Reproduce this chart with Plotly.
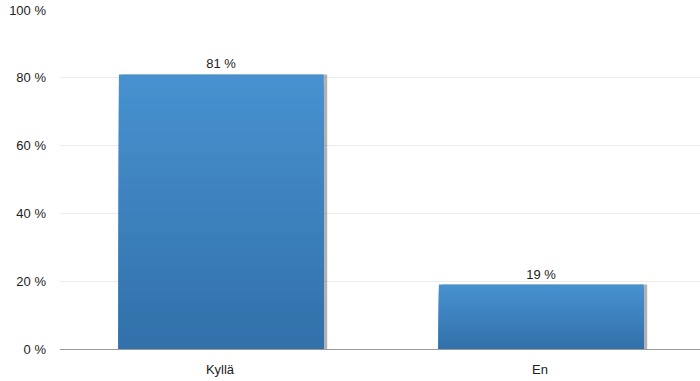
import plotly.graph_objects as go

categories = ["Kyllä", "En"]
values = [81, 19]
labels = [f"{v} %" for v in values]

font = "Liberation Sans, Arial, sans-serif"
top_rgb = (71, 145, 208)
bottom_rgb = (50, 113, 170)
steps = 24
bar_width = 0.64
bar_offset = -0.32 + 0.004

fig = go.Figure()

# soft drop shadow behind each bar
fig.add_trace(go.Bar(
    x=categories, y=values,
    width=bar_width, offset=bar_offset + 0.011,
    marker=dict(color="rgba(0,0,0,0.3)", line=dict(width=0)),
    hoverinfo="skip", showlegend=False,
))

# vertical gradient: overlaid bars, each shorter layer a little darker
for i in range(steps):
    t = i / (steps - 1)
    rgb = tuple(round(a + (b - a) * t) for a, b in zip(top_rgb, bottom_rgb))
    frac = 1 - i / steps
    fig.add_trace(go.Bar(
        x=categories, y=[v * frac for v in values],
        width=bar_width, offset=bar_offset,
        marker=dict(color="rgb(%d,%d,%d)" % rgb, line=dict(width=0)),
        hoverinfo="skip", showlegend=False,
    ))

# value labels on the full-height bars
fig.add_trace(go.Bar(
    x=categories, y=values,
    width=bar_width, offset=bar_offset,
    marker=dict(color="rgba(0,0,0,0)", line=dict(width=0)),
    text=labels, textposition="outside", cliponaxis=False,
    textfont=dict(family=font, size=13, color="#222"),
    showlegend=False,
))

fig.update_layout(
    width=700, height=381,
    margin=dict(l=60, r=0, t=10, b=32),
    paper_bgcolor="white", plot_bgcolor="white",
    barmode="overlay",
    font=dict(family=font, size=13, color="#222"),
    xaxis=dict(
        showgrid=False, showline=True, linecolor="#999", linewidth=1,
        ticks="", ticklabelstandoff=8,
        tickfont=dict(size=13, color="#222"),
    ),
    yaxis=dict(
        range=[0, 100], tick0=0, dtick=20, ticksuffix=" %",
        showgrid=True, gridcolor="#ececec", gridwidth=1,
        zeroline=False, showline=False, ticks="",
        ticklabelstandoff=13,
        tickfont=dict(size=13, color="#222"),
    ),
)

fig.write_html("out.html")
